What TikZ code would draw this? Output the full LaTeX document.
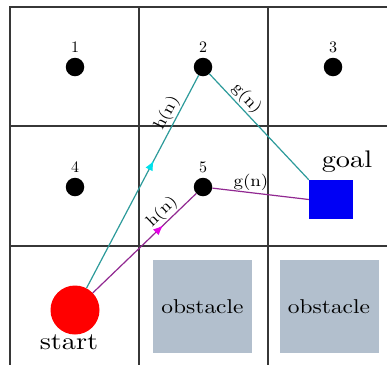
\documentclass[tikz,border=0pt]{standalone}
\usetikzlibrary{decorations.markings,arrows.meta}
\definecolor{gridgray}{RGB}{55,55,55}
\definecolor{obstcol}{RGB}{178,191,205}
\definecolor{tealc}{RGB}{45,155,155}
\definecolor{purplec}{RGB}{145,40,145}
\definecolor{cyanc}{RGB}{0,225,235}
\definecolor{magc}{RGB}{230,0,230}
\definecolor{goalc}{RGB}{0,0,245}
\font\fnum="[lmroman10-regular]:mapping=tex-text" at 16pt
\font\flbl="[lmroman10-regular]:mapping=tex-text;extend=1.15" at 16.5pt
\font\fobs="[lmroman10-regular]:mapping=tex-text;extend=1.17" at 20pt
\font\fbig="[lmroman10-regular]:mapping=tex-text;extend=1.18" at 24pt
\tikzset{
  gridline/.style={draw=gridgray, line width=1.2pt},
  dot/.style={circle, fill=black, minimum size=18.5pt, inner sep=0pt},
  num/.style={font=\fnum, inner sep=0pt},
  lbl/.style={font=\flbl, inner sep=1.5pt},
  obst/.style={fill=obstcol, minimum width=99pt, minimum height=93pt, inner sep=0pt, font=\fobs},
  bigtext/.style={font=\fbig, inner sep=0pt},
  tealline/.style={draw=tealc, line width=1.2pt},
  purpleline/.style={draw=purplec, line width=1.2pt},
  midarrow/.style 2 args={postaction={decorate}, decoration={markings, mark=at position #1 with {\arrow{Latex[length=10pt,width=8pt,color=#2]}}}}
}
\begin{document}
\begin{tikzpicture}[x=1pt,y=-1pt]
\useasboundingbox (0,0) rectangle (387,365);
\fill[white] (0,0) rectangle (387,365);
% grid
\draw[gridline] (387,7) -- (10,7) -- (10,365);
\draw[gridline] (139,7) -- (139,365);
\draw[gridline] (268,7) -- (268,365);
\draw[gridline] (10,126) -- (387,126);
\draw[gridline] (10,246) -- (387,246);
% obstacles
\node[obst] (ob1) at (202.5,306.5) {obstacle};
\node[obst] (ob2) at (329,306.5) {obstacle};
% dots and numbers
\node[dot] (n1) at (75,67) {};
\node[dot] (n2) at (203,67) {};
\node[dot] (n3) at (333,67) {};
\node[dot] (n4) at (75,187) {};
\node[dot] (n5) at (203,187) {};
\node[num] (l1) at (75,47.5) {1};
\node[num] (l2) at (203,47.5) {2};
\node[num] (l3) at (333,47.5) {3};
\node[num] (l4) at (75,167.5) {4};
\node[num] (l5) at (203,167.5) {5};
% goal and start
\node[fill=goalc, minimum width=44pt, minimum height=39pt, inner sep=0pt] (goal) at (331,199.5) {};
\node[bigtext] (goallbl) at (347,162) {goal};
\node[circle, fill=red, minimum size=49pt, inner sep=0pt] (start) at (75,310) {};
\node[bigtext] (startlbl) at (69,342) {start};
% paths
\draw[tealline, midarrow={0.6}{cyanc}] (start) -- (n2) node[lbl, sloped, above, pos=0.8] (h1) {h(n)};
\draw[tealline] (n2) -- (goal.north west) node[lbl, sloped, above, pos=0.3] (g1) {g(n)};
\draw[purpleline, midarrow={0.68}{magc}] (start) -- (n5) node[lbl, sloped, above, pos=0.74] (h2) {h(n)};
\draw[purpleline] (n5) -- (goal.west) node[lbl, above, pos=0.4] (g2) {g(n)};
\end{tikzpicture}
\end{document}
